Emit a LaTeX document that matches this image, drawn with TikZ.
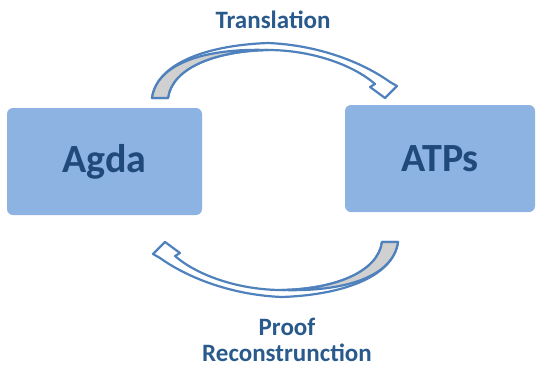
\documentclass[tikz,border=0pt]{standalone}
\usepackage{fontspec}
\setmainfont{Carlito}
\definecolor{boxfill}{HTML}{8DB3E2}
\definecolor{boxtext}{HTML}{1F4A7A}
\definecolor{labeltext}{HTML}{2A5A8C}
\definecolor{arrowline}{HTML}{4F81BD}
\definecolor{arrowback}{HTML}{D0D0D0}

\begin{document}
\begin{tikzpicture}[x=1pt,y=-1pt,
    sysbox/.style={fill=boxfill,rounded corners=6pt,text=boxtext,
        font=\fontsize{40}{40}\selectfont\bfseries},
    steplabel/.style={text=labeltext,align=center,
        font=\fontsize{25}{26}\selectfont\bfseries},
    arrowband/.style={draw=arrowline,line width=2.2pt,line join=round}]
    \useasboundingbox (0,0) rectangle (537,368);

    % the two systems
    \node[sysbox,minimum width=195pt,minimum height=107pt] (agda) at (104.5,161.5) {Agda};
    \node[sysbox,minimum width=190pt,minimum height=107pt] (atps) at (440,158.5) {ATPs};

    % curved block arrows, the lower one is the upper one turned round
    \foreach \ang in {0,180}
    {
        \begin{scope}[rotate around={\ang:(275,170)}]
            \draw[arrowband,fill=white] (152,98)
                .. controls (157,62) and (210,45) .. (268,43)
                .. controls (318,45) and (362,62) .. (390,82)
                -- (397,86) -- (385,98) -- (370,87) -- (375,84)
                .. controls (352,64) and (310,50) .. (268,50)
                .. controls (215,51) and (172,68) .. (168,98) -- cycle;
            \draw[arrowband,fill=arrowback] (152,98)
                .. controls (157,63) and (206,48) .. (268,50)
                .. controls (215,51) and (172,68) .. (168,98) -- cycle;
        \end{scope}
    }

    % labels
    \node[steplabel] (trans) at (273,20) {Translation};
    \node[steplabel] (recon) at (287,340) {Proof\\Reconstrunction};
\end{tikzpicture}
\end{document}
